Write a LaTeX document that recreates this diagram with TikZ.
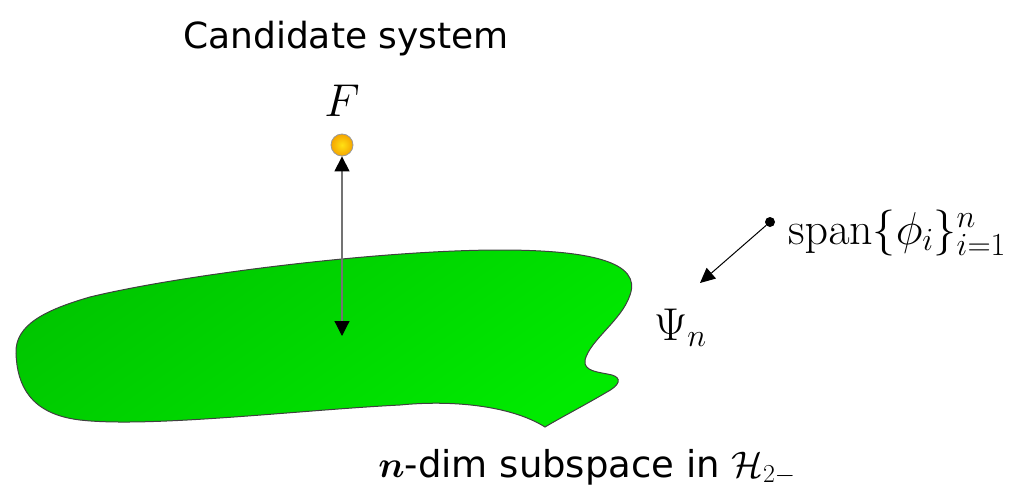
\RequirePackage{fix-cm}
\documentclass[tikz,border=0pt]{standalone}
\usepackage{amsmath,amssymb}
\usepackage[no-math]{fontspec}
\setmainfont{DejaVu Sans}
\usetikzlibrary{arrows.meta}
\definecolor{gdark}{RGB}{0,198,0}
\definecolor{glight}{RGB}{0,234,0}
\definecolor{ballin}{RGB}{255,225,20}
\definecolor{ballout}{RGB}{245,165,0}
\begin{document}
\begin{tikzpicture}[x=1pt,y=-1pt,
  sanslabel/.style={inner sep=0pt,font=\fontsize{36}{40}\selectfont},
  subtitle/.style={inner sep=0pt,font=\fontsize{37}{42}\selectfont},
  mathlabel/.style={inner sep=0pt,font=\fontsize{46}{52}\selectfont},
  ball/.style={circle,minimum size=22pt,inner sep=0pt,shading=radial,inner color=ballin,outer color=ballout,draw=gray!80,line width=0.8pt},
  smalldot/.style={circle,fill=black,minimum size=10pt,inner sep=0pt},
  projline/.style={draw=black!55,line width=1.2pt,{Triangle[length=15pt,width=15pt,color=black]}-{Triangle[length=15pt,width=15pt,color=black]}},
  pointer/.style={draw=black,line width=1pt,-{Triangle[length=15pt,width=14pt]}},
  subspace/.style={draw=black!75,line width=1pt,top color=gdark,bottom color=glight,shading angle=35}
]
\useasboundingbox (0,0) rectangle (1015,490);

% subspace region
\path[subspace] (16,353) .. controls (15,325) and (45,310) .. (90,297)
  .. controls (180,275) and (380,250) .. (500,250)
  .. controls (590,250) and (642,262) .. (630,295)
  .. controls (622,320) and (590,340) .. (585,360)
  .. controls (583,372) and (600,372) .. (612,375)
  .. controls (622,378) and (620,385) .. (607,392)
  .. controls (585,405) and (560,418) .. (545,427)
  .. controls (510,405) and (450,400) .. (400,405)
  .. controls (300,410) and (150,428) .. (80,420)
  .. controls (30,414) and (17,385) .. (16,353) -- cycle;

% titles
\node[sanslabel,anchor=base] (title) at (346,48) {Candidate system};
\node[subtitle,anchor=base] (sub) at (587,477) {$\boldsymbol{n}$-dim subspace in $\mathcal{H}_{2-}$};

% candidate F
\node[ball] (F) at (342,145) {};
\node[mathlabel,anchor=base] (Flabel) at (342,116) {$F$};
\coordinate (P) at (342,336);
\draw[projline] (F.south) -- (P);

% span
\node[smalldot] (D) at (770,222) {};
\node[mathlabel,anchor=base west] (span) at (788,244) {$\mathrm{span}\{\phi_i\}_{i=1}^n$};
\coordinate (T) at (700,283);
\draw[pointer] (D) -- (T);
\node[mathlabel,anchor=base west] (psi) at (654,340) {$\Psi_n$};
\end{tikzpicture}
\end{document}
